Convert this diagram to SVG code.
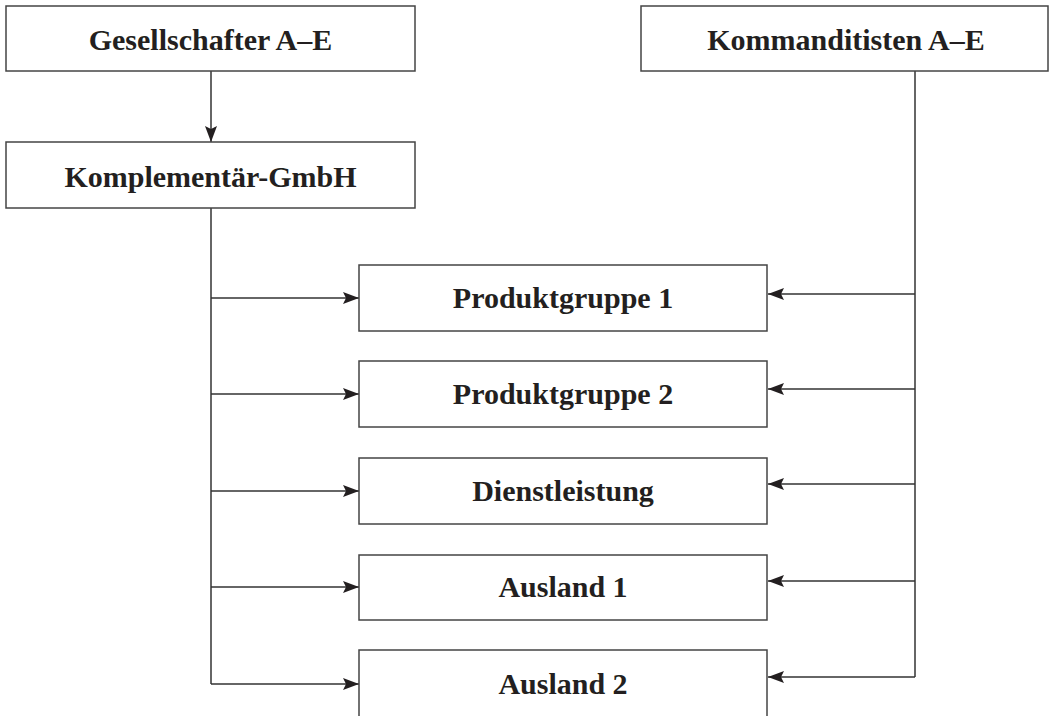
<svg xmlns="http://www.w3.org/2000/svg" width="1051" height="716" viewBox="0 0 1051 716">
<defs>
<style>
.box{fill:#fff;stroke:#444;stroke-width:1.5}
.ln{fill:none;stroke:#333;stroke-width:1.5}
.t{font-family:"Liberation Serif","Times New Roman",serif;font-weight:bold;font-size:30px;fill:#231f20;text-anchor:middle}
</style>
<marker id="ah" markerWidth="16" markerHeight="12" refX="16" refY="6" orient="auto" markerUnits="userSpaceOnUse">
<path d="M0,0 L16,6 L0,12 L3,6 Z" fill="#231f20"/>
</marker>
</defs>
<rect width="1051" height="716" fill="#fff"/>
<g id="connectors">
<line class="ln" x1="211" y1="71" x2="211" y2="142" marker-end="url(#ah)"/>
<polyline class="ln" points="211,208 211,684"/>
<polyline class="ln" points="915,71 915,677"/>
<line class="ln" x1="211" y1="298" x2="359" y2="298" marker-end="url(#ah)"/>
<line class="ln" x1="211" y1="394" x2="359" y2="394" marker-end="url(#ah)"/>
<line class="ln" x1="211" y1="491" x2="359" y2="491" marker-end="url(#ah)"/>
<line class="ln" x1="211" y1="587" x2="359" y2="587" marker-end="url(#ah)"/>
<line class="ln" x1="211" y1="684" x2="359" y2="684" marker-end="url(#ah)"/>
<line class="ln" x1="915" y1="294" x2="768" y2="294" marker-end="url(#ah)"/>
<line class="ln" x1="915" y1="389" x2="768" y2="389" marker-end="url(#ah)"/>
<line class="ln" x1="915" y1="484" x2="768" y2="484" marker-end="url(#ah)"/>
<line class="ln" x1="915" y1="581" x2="768" y2="581" marker-end="url(#ah)"/>
<line class="ln" x1="915" y1="677" x2="768" y2="677" marker-end="url(#ah)"/>
</g>
<g id="gesellschafter">
<rect class="box" x="6" y="6" width="409" height="65"/>
<text class="t" x="210.5" y="50">Gesellschafter A–E</text>
</g>
<g id="kommanditisten">
<rect class="box" x="641" y="6" width="407" height="65"/>
<text class="t" x="846" y="50">Kommanditisten A–E</text>
</g>
<g id="komplementaer">
<rect class="box" x="6" y="142" width="409" height="66"/>
<text class="t" x="210.5" y="187">Komplementär-GmbH</text>
</g>
<g id="produktgruppe1">
<rect class="box" x="359" y="265" width="408" height="66"/>
<text class="t" x="563" y="308">Produktgruppe 1</text>
</g>
<g id="produktgruppe2">
<rect class="box" x="359" y="361" width="408" height="66"/>
<text class="t" x="563" y="404">Produktgruppe 2</text>
</g>
<g id="dienstleistung">
<rect class="box" x="359" y="458" width="408" height="66"/>
<text class="t" x="563" y="501">Dienstleistung</text>
</g>
<g id="ausland1">
<rect class="box" x="359" y="555" width="408" height="65"/>
<text class="t" x="563" y="597">Ausland 1</text>
</g>
<g id="ausland2">
<rect class="box" x="359" y="650" width="408" height="80"/>
<text class="t" x="563" y="694">Ausland 2</text>
</g>
</svg>
